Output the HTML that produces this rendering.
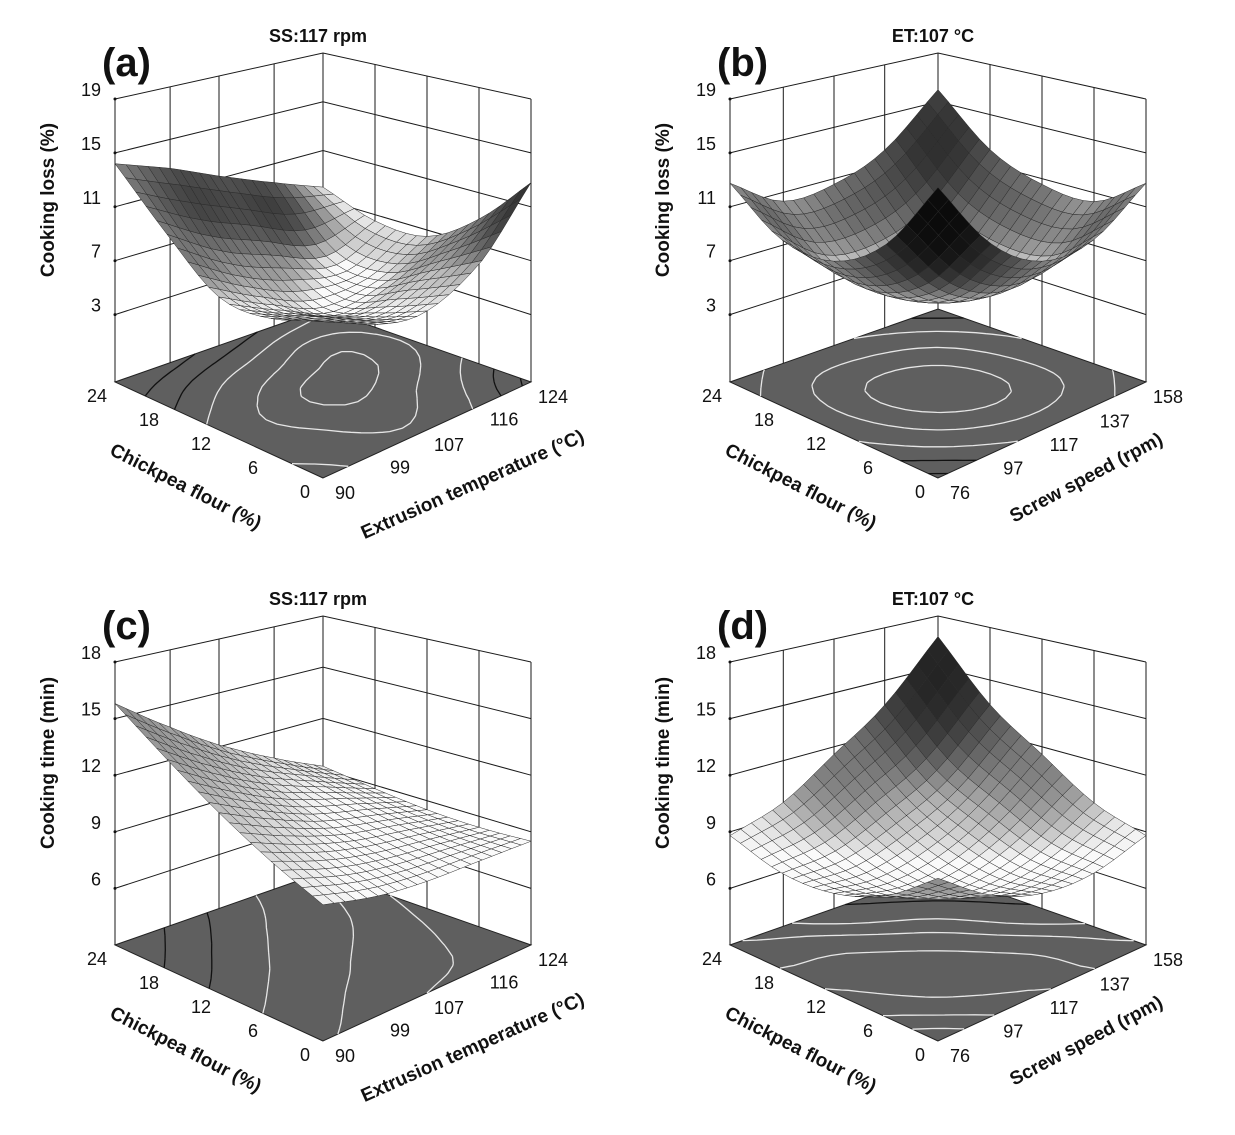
<!DOCTYPE html>
<html><head><meta charset="utf-8"><style>
html,body{margin:0;padding:0;background:#fff;}
svg{display:block;font-family:"Liberation Sans",Arial,sans-serif;}
</style></head><body>
<svg id="chart" width="1235" height="1135" viewBox="0 0 1235 1135" xmlns="http://www.w3.org/2000/svg"></svg>
<script>
// ---- data ----
const cfTicks=[0,6,12,18,24];
const etTicks=[90,99,107,116,124];
const ssTicks=[76,97,117,137,158];
const lossTicks=[3,7,11,15,19];
const timeTicks=[6,9,12,15,18];
// rows: chickpea flour (cfTicks); columns: second factor ticks
const lossA=[[9.0,7.0,6.5,8.5,12.8],[7.5,6.0,5.0,6.5,9.0],[7.5,5.5,4.0,4.5,6.5],[10.5,8.0,6.5,5.0,6.5],[14.2,12.8,11.2,9.5,8.0]];
const lossB=[[18.0,12.7,10.06,10.08,12.75],[12.7,8.13,6.2,6.94,10.33],[10.06,6.2,5.0,6.45,10.56],[10.08,6.94,6.45,8.0,12.2],[12.75,10.33,10.56,12.2,16.0]];
const timeC=[[9.7,9.0,8.7,8.6,8.5],[10.8,9.8,9.2,8.8,8.4],[12.2,10.9,9.9,9.2,8.5],[13.9,12.2,10.9,9.8,8.8],[15.8,13.8,12.1,10.5,9.2]];
const timeD=[[11.0,9.08,8.08,7.98,8.8],[9.08,7.87,7.58,8.2,9.73],[8.08,7.58,8.0,9.33,11.58],[7.98,8.2,9.33,10.8,13.6],[8.8,9.73,11.58,13.6,16.8]];

const panels=[
 {dx:0,dy:0,xTicks:etTicks,zTicks:lossTicks,zmin:-2,zmax:19,values:lossA,xTitle:'Extrusion temperature (°C)',zTitle:'Cooking loss (%)',title:'SS:117 rpm',tag:'(a)',levels:[4.5,6,8,10,12],id:'a'},
 {dx:615,dy:0,xTicks:ssTicks,zTicks:lossTicks,zmin:-2,zmax:19,values:lossB,xTitle:'Screw speed (rpm)',zTitle:'Cooking loss (%)',title:'ET:107 °C',tag:'(b)',levels:[6,8,11,14,17],id:'b'},
 {dx:0,dy:563,xTicks:etTicks,zTicks:timeTicks,zmin:3,zmax:18,values:timeC,xTitle:'Extrusion temperature (°C)',zTitle:'Cooking time (min)',title:'SS:117 rpm',tag:'(c)',levels:[8.7,9.5,11,12.5,14],id:'c'},
 {dx:615,dy:563,xTicks:ssTicks,zTicks:timeTicks,zmin:3,zmax:18,values:timeD,xTitle:'Screw speed (rpm)',zTitle:'Cooking time (min)',title:'ET:107 °C',tag:'(d)',levels:[8,9,10,12,14,16],id:'d'}
];

const NS='http://www.w3.org/2000/svg';
const svg=document.getElementById('chart');
function mk(tag,attrs,parent){const e=document.createElementNS(NS,tag);for(const k in attrs)e.setAttribute(k,attrs[k]);(parent||svg).appendChild(e);return e;}

const FC=[323,478],LC=[115,382],RC=[531,382],BC=[323,309];
const HF=305,HL=283,HR=283,HB=256;
function floorPt(p,u,v){
 const x=FC[0]*(1-u)*(1-v)+LC[0]*u*(1-v)+RC[0]*(1-u)*v+BC[0]*u*v;
 const y=FC[1]*(1-u)*(1-v)+LC[1]*u*(1-v)+RC[1]*(1-u)*v+BC[1]*u*v;
 return [x+p.dx,y+p.dy];
}
function hAt(u,v){return HF*(1-u)*(1-v)+HL*u*(1-v)+HR*(1-u)*v+HB*u*v;}
function proj(p,u,v,z){const q=floorPt(p,u,v);return [q[0],q[1]-hAt(u,v)*(z-p.zmin)/(p.zmax-p.zmin)];}
function uScale(cf){return (cf-cfTicks[0])/(cfTicks[cfTicks.length-1]-cfTicks[0]);}
function vScale(p,x){const t=p.xTicks;return (x-t[0])/(t[t.length-1]-t[0]);}
function tickAt(arr,t){const i=Math.min(Math.floor(t),arr.length-2);const f=t-i;return arr[i]+(arr[i+1]-arr[i])*f;}
function cr(arr,t){
 const n=arr.length;let i=Math.min(Math.floor(t),n-2);const f=t-i;
 const p1=arr[i],p2=arr[i+1];
 const p0=i>0?arr[i-1]:2*arr[0]-arr[1];
 const p3=i+2<n?arr[i+2]:2*arr[n-1]-arr[n-2];
 return 0.5*(2*p1+(-p0+p2)*f+(2*p0-5*p1+4*p2-p3)*f*f+(-p0+3*p1-3*p2+p3)*f*f*f);
}
function fmt(a){return a.map(q=>q[0].toFixed(1)+','+q[1].toFixed(1)).join(' ');}

panels.forEach(p=>{
 const g=mk('g',{});
 
 
 const fl=mk('polygon',{points:fmt([floorPt(p,0,0),floorPt(p,1,0),floorPt(p,1,1),floorPt(p,0,1)]),fill:'#5f5f5f',stroke:'#222','stroke-width':1},g);
 
 
 const wl=mk('g',{stroke:'#1a1a1a','stroke-width':1,fill:'none'},g);
 
 
 p.xTicks.forEach(x=>{const v=vScale(p,x);mk('polyline',{points:fmt([proj(p,1,v,p.zmin),proj(p,1,v,p.zmax)])},wl);});
 cfTicks.forEach(c=>{const u=uScale(c);mk('polyline',{points:fmt([proj(p,u,1,p.zmin),proj(p,u,1,p.zmax)])},wl);});
 p.zTicks.forEach(z=>{
  mk('polyline',{points:fmt([proj(p,1,0,z),proj(p,1,1,z),proj(p,0,1,z)])},wl);
 });
 mk('polyline',{points:fmt([proj(p,1,0,p.zmin),proj(p,1,0,p.zmax)])},wl);
 mk('polyline',{points:fmt([proj(p,0,1,p.zmin),proj(p,0,1,p.zmax)])},wl);
 const N=21;const S=[];
 for(let a=0;a<N;a++){S.push([]);const ti=a*4/(N-1);
  for(let b=0;b<N;b++){const tj=b*4/(N-1);
   const rowVals=p.values.map(row=>cr(row,tj));
   S[a].push(cr(rowVals,ti));}
 }
 const U=[],V=[];
 for(let a=0;a<N;a++){U.push(uScale(tickAt(cfTicks,a*4/(N-1))));V.push(vScale(p,tickAt(p.xTicks,a*4/(N-1))));}
 const cg=mk('g',{fill:'none','stroke-width':1.3},g);
 
 
 p.levels.forEach((L,li)=>{
  const col=li<p.levels.length/2?'#e6e6e6':'#111';
  let d='';
  for(let a=0;a<N-1;a++)for(let b=0;b<N-1;b++){
   const c=[[a,b],[a+1,b],[a+1,b+1],[a,b+1]];
   const pts=[];
   for(let k=0;k<4;k++){const A=c[k],B=c[(k+1)%4];const za=S[A[0]][A[1]],zb=S[B[0]][B[1]];
    if((za<L)!==(zb<L)){const f=(L-za)/(zb-za);
     const uu=U[A[0]]+(U[B[0]]-U[A[0]])*f,vv=V[A[1]]+(V[B[1]]-V[A[1]])*f;pts.push(floorPt(p,uu,vv));}}
   for(let k=0;k+1<pts.length;k+=2)d+='M'+pts[k][0].toFixed(1)+' '+pts[k][1].toFixed(1)+'L'+pts[k+1][0].toFixed(1)+' '+pts[k+1][1].toFixed(1);
  }
  const cp=mk('path',{d:d,stroke:col},cg);
  
  
 });
 const sg=mk('g',{stroke:'#2a2a2a','stroke-width':0.5,'stroke-linejoin':'round'},g);
 
 
 const cells=[];
 for(let a=0;a<N-1;a++)for(let b=0;b<N-1;b++)cells.push([a,b]);
 cells.sort((m,n)=>(n[0]+n[1])-(m[0]+m[1]));
 const rng=p.zmax-p.zmin;
 cells.forEach(([a,b])=>{
  const z00=S[a][b],z10=S[a+1][b],z11=S[a+1][b+1],z01=S[a][b+1];
  const du=U[a+1]-U[a],dv=V[b+1]-V[b];
  const su=((z10+z11)-(z00+z01))/2/rng/du, sv=((z01+z11)-(z00+z10))/2/rng/dv;
  const nz=1/Math.sqrt(1+su*su+sv*sv);
  let br=Math.max(0,Math.min(1,(nz-0.56)/0.4));
  br=Math.pow(br,1.3);
  const gv=Math.round(10+240*br);
  const poly=mk('polygon',{points:fmt([proj(p,U[a],V[b],z00),proj(p,U[a+1],V[b],z10),proj(p,U[a+1],V[b+1],z11),proj(p,U[a],V[b+1],z01)]),fill:'rgb('+gv+','+gv+','+gv+')'},sg);
  
  
 });
 p.zTicks.forEach(z=>{
  const q=proj(p,1,0,z);
  const t=mk('text',{x:q[0]-14,y:q[1]-3,'font-size':18,'text-anchor':'end',fill:'#111'},g);
  
  
  t.textContent=z;
  mk('circle',{cx:q[0],cy:q[1],r:1.5,fill:'#111'},g);
 });
 cfTicks.forEach(c=>{
  const q=floorPt(p,uScale(c),0);
  const t=mk('text',{x:q[0]-18,y:q[1]+20,'font-size':18,'text-anchor':'middle',fill:'#111'},g);
  
  
  t.textContent=c;
 });
 p.xTicks.forEach(x=>{
  const q=floorPt(p,0,vScale(p,x));
  const t=mk('text',{x:q[0]+22,y:q[1]+21,'font-size':18,'text-anchor':'middle',fill:'#111'},g);
  
  
  t.textContent=x;
 });
 const zt=mk('text',{x:0,y:0,'font-size':19,'font-weight':'bold','text-anchor':'middle',fill:'#111',transform:'translate('+(p.dx+54)+','+(p.dy+200)+') rotate(-90)'},g);
 
 
 zt.textContent=p.zTitle;
 const ct=mk('text',{x:0,y:0,'font-size':19,'font-weight':'bold','text-anchor':'middle',fill:'#111',transform:'translate('+(p.dx+183)+','+(p.dy+492)+') rotate(27)'},g);
 
 
 ct.textContent='Chickpea flour (%)';
 const isET=p.xTicks===etTicks;
 const xt=mk('text',{x:0,y:0,'font-size':19,'font-weight':'bold','text-anchor':'middle',fill:'#111',transform:'translate('+(p.dx+(isET?475:474))+','+(p.dy+(isET?490:483))+') rotate('+(isET?-24:-28)+')'},g);
 
 
 xt.textContent=p.xTitle;
 const tt=mk('text',{x:p.dx+318,y:p.dy+42,'font-size':18,'font-weight':'bold','text-anchor':'middle',fill:'#111'},g);
 
 
 tt.textContent=p.title;
 const tg=mk('text',{x:p.dx+102,y:p.dy+76,'font-size':40,'font-weight':'bold',fill:'#111'},g);
 
 
 tg.textContent=p.tag;
});
</script>
</body></html>
